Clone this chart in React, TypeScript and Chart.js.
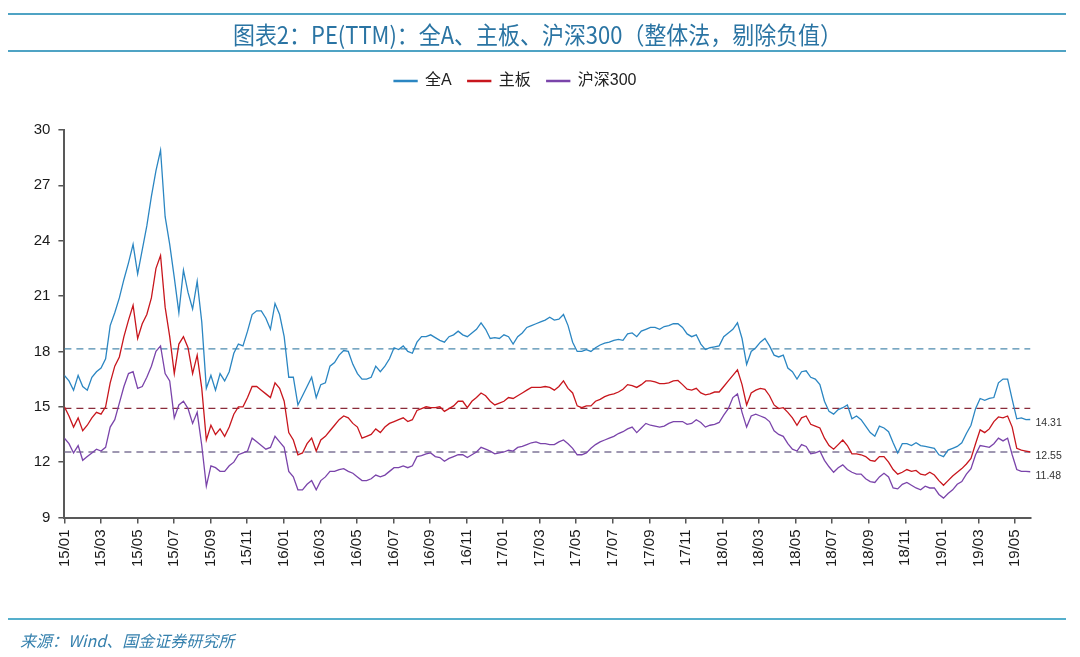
import React, { useEffect, useRef } from "react";
import { Chart, registerables } from "chart.js";

Chart.register(...registerables);

const TITLE = "图表2：PE(TTM)：全A、主板、沪深300（整体法，剔除负值）";
const SOURCE = "来源：Wind、国金证券研究所";
const SERIES_NAMES = ["全A", "主板", "沪深300"];

// x axis: months since 2015-01, tick every 2 months
const TICK_LABELS = [
  "15/01", "15/03", "15/05", "15/07", "15/09", "15/11",
  "16/01", "16/03", "16/05", "16/07", "16/09", "16/11",
  "17/01", "17/03", "17/05", "17/07", "17/09", "17/11",
  "18/01", "18/03", "18/05", "18/07", "18/09", "18/11",
  "19/01", "19/03", "19/05",
];
const TICK_STEP_MONTHS = 2;
const X_END_MONTH = 52.85;
const Y_MIN = 9;
const Y_MAX = 30;
const Y_STEP = 3;

// roughly weekly readings of PE(TTM)
const QUAN_A = [
  16.7, 16.4, 15.9, 16.7, 16.1, 15.9, 16.6, 16.9, 17.1, 17.6,
  19.4, 20.1, 20.9, 21.9, 22.8, 23.8, 22.2, 23.5, 24.8, 26.4,
  27.8, 28.9, 25.3, 23.8, 22.0, 20.1, 22.4, 21.2, 20.3, 21.8,
  19.6, 16.0, 16.7, 15.9, 16.8, 16.4, 16.9, 17.9, 18.4, 18.3,
  19.1, 20.0, 20.2, 20.2, 19.8, 19.2, 20.6, 20.0, 18.8, 16.6,
  16.6, 15.1, 15.6, 16.1, 16.6, 15.5, 16.2, 16.3, 17.2, 17.4,
  17.8, 18.05, 18.0, 17.3, 16.8, 16.5, 16.5, 16.6, 17.2, 16.9,
  17.2, 17.6, 18.2, 18.1, 18.3, 18.0, 17.9, 18.5, 18.8, 18.8,
  18.9, 18.75, 18.6, 18.5, 18.8, 18.9, 19.1, 18.9, 18.8, 19.0,
  19.2, 19.55, 19.2, 18.7, 18.75, 18.7, 18.9, 18.8, 18.4, 18.8,
  19.0, 19.3, 19.4, 19.5, 19.6, 19.7, 19.85, 19.7, 19.75, 20.0,
  19.4, 18.5, 18.0, 18.0, 18.1, 18.0, 18.2, 18.35, 18.45, 18.5,
  18.6, 18.65, 18.6, 18.95, 19.0, 18.8, 19.1, 19.2, 19.3, 19.3,
  19.2, 19.35, 19.4, 19.5, 19.5, 19.3, 18.95, 18.8, 18.9, 18.4,
  18.1, 18.2, 18.25, 18.3, 18.8, 19.0, 19.2, 19.55, 18.7, 17.3,
  18.0, 18.2, 18.5, 18.7, 18.3, 17.8, 17.7, 17.8, 17.1, 16.9,
  16.5, 16.9, 16.95, 16.6, 16.5, 16.2, 15.3, 14.75, 14.6, 14.85,
  14.95, 15.1, 14.35, 14.5, 14.3, 13.95, 13.6, 13.4, 13.95, 13.85,
  13.65, 13.05, 12.5, 13.0, 13.0, 12.9, 13.05, 12.9, 12.85, 12.8,
  12.75, 12.4, 12.3, 12.65, 12.75, 12.85, 13.05, 13.55, 14.0, 14.9,
  15.45, 15.35, 15.45, 15.5, 16.3, 16.5, 16.5, 15.4, 14.35, 14.4,
  14.3, 14.31,
];

const ZHU_BAN = [
  15.0, 14.5, 13.9, 14.4, 13.7, 14.0, 14.4, 14.7, 14.6, 15.0,
  16.3, 17.2, 17.7, 18.8, 19.7, 20.5, 18.7, 19.5, 20.0, 20.9,
  22.5, 23.2, 20.4, 18.8, 16.8, 18.4, 18.8, 18.2, 16.8, 17.8,
  16.0, 13.2, 14.0, 13.5, 13.8, 13.4, 13.9, 14.6, 15.0, 15.0,
  15.5, 16.1, 16.1, 15.9, 15.7, 15.5, 16.3, 16.0, 15.3, 13.6,
  13.2, 12.4, 12.5, 13.0, 13.3, 12.6, 13.2, 13.4, 13.7, 14.0,
  14.3, 14.5, 14.4, 14.1, 13.9, 13.3, 13.4, 13.5, 13.8, 13.6,
  13.9, 14.1, 14.2, 14.3, 14.4, 14.2, 14.3, 14.8, 14.9, 15.0,
  14.95, 14.95, 15.0, 14.75, 14.9, 15.05, 15.3, 15.3, 14.95, 15.3,
  15.5, 15.75, 15.6, 15.3, 15.1, 15.2, 15.3, 15.5, 15.45, 15.6,
  15.75, 15.9, 16.05, 16.05, 16.05, 16.1, 16.05, 15.9, 16.1, 16.4,
  16.0, 15.75, 15.05, 14.95, 15.05, 15.05, 15.3, 15.4, 15.55, 15.65,
  15.7, 15.8, 15.95, 16.2, 16.15, 16.05, 16.2, 16.4, 16.4, 16.35,
  16.25, 16.25, 16.3, 16.4, 16.43, 16.2, 15.95, 15.9, 16.0, 15.75,
  15.65, 15.7, 15.8, 15.8, 16.1, 16.4, 16.7, 17.0, 16.2, 15.1,
  15.75, 15.9, 16.0, 15.95, 15.6, 15.1, 14.9, 14.95, 14.7, 14.4,
  14.0, 14.4, 14.5, 14.05, 13.95, 13.85, 13.3, 12.9, 12.7, 12.95,
  13.2, 12.9, 12.45, 12.45, 12.4, 12.3, 12.1, 12.05, 12.3, 12.3,
  12.0, 11.6, 11.35, 11.45, 11.6, 11.5, 11.55, 11.35, 11.3, 11.45,
  11.3, 11.0, 10.75, 11.0, 11.25, 11.45, 11.65, 11.9, 12.2, 13.0,
  13.75, 13.6, 13.8, 14.2, 14.45, 14.4, 14.5, 13.9, 12.75, 12.65,
  12.6, 12.55,
];

const HS300 = [
  13.3, 13.0, 12.5, 12.9, 12.1, 12.3, 12.5, 12.7, 12.6, 12.8,
  13.9, 14.3, 15.2, 16.1, 16.8, 16.9, 16.0, 16.1, 16.6, 17.2,
  18.0, 18.3, 16.8, 16.4, 14.4, 15.1, 15.3, 14.9, 14.1, 14.7,
  12.9, 10.7, 11.8, 11.7, 11.5, 11.5, 11.8, 12.0, 12.4, 12.5,
  12.6, 13.3, 13.1, 12.9, 12.7, 12.8, 13.4, 13.1, 12.8, 11.5,
  11.2, 10.5, 10.5, 10.8, 11.0, 10.5, 11.0, 11.2, 11.5, 11.5,
  11.6, 11.65, 11.5, 11.4, 11.2, 11.0, 11.0, 11.1, 11.3, 11.2,
  11.3, 11.5, 11.7, 11.7, 11.8, 11.7, 11.8, 12.3, 12.35, 12.45,
  12.5, 12.3, 12.25, 12.05, 12.2, 12.3, 12.4, 12.4, 12.25, 12.4,
  12.55, 12.8, 12.7, 12.6, 12.45, 12.5, 12.55, 12.65, 12.6, 12.8,
  12.85, 12.95, 13.05, 13.1, 13.0, 13.0, 12.95, 12.95, 13.1, 13.2,
  13.0, 12.75, 12.4, 12.4, 12.5, 12.75, 12.95, 13.1, 13.2, 13.3,
  13.4, 13.55, 13.65, 13.8, 13.9, 13.6, 13.85, 14.1, 14.0, 13.95,
  13.9, 13.95, 14.1, 14.2, 14.2, 14.2, 14.05, 14.1, 14.3, 14.15,
  13.9, 14.0, 14.05, 14.15, 14.55, 14.9, 15.5, 15.7, 14.7, 13.9,
  14.5, 14.6, 14.5, 14.4, 14.2, 13.7, 13.5, 13.4, 13.0, 12.7,
  12.6, 12.95, 12.85, 12.45, 12.5, 12.6, 12.1, 11.75, 11.45, 11.7,
  11.85, 11.6, 11.45, 11.35, 11.35, 11.1, 10.95, 10.9, 11.2, 11.4,
  11.2, 10.6, 10.55, 10.8, 10.9, 10.75, 10.6, 10.5, 10.7, 10.6,
  10.6, 10.25, 10.05, 10.3, 10.5, 10.8, 10.95, 11.35, 11.65, 12.4,
  12.9, 12.85, 12.8, 13.0, 13.3, 13.15, 13.3, 12.4, 11.6, 11.5,
  11.5, 11.48,
];

// long-run averages (dashed reference lines)
const AVERAGES = [18.14, 14.91, 12.55];

const SERIES_COLORS = ["#2b86c2", "#c8161d", "#7a44aa"];
const AVG_COLORS = ["#4c8aae", "#8a2b3a", "#7f7598"];
const FONT = "'Liberation Sans', 'Noto Sans CJK SC', Arial, sans-serif";

export default function App() {
  const canvasRef = useRef<HTMLCanvasElement | null>(null);

  useEffect(() => {
    const canvas = canvasRef.current;
    if (!canvas) return;
    const seriesList = [QUAN_A, ZHU_BAN, HS300];
    const step = X_END_MONTH / (QUAN_A.length - 1);

    const mainSets = seriesList.map((arr, k) => ({
      label: SERIES_NAMES[k],
      data: arr.map((v, i) => ({ x: i * step, y: v })),
      borderColor: SERIES_COLORS[k],
      backgroundColor: SERIES_COLORS[k],
      borderWidth: 1.3,
      pointRadius: 0,
      tension: 0,
    }));
    const avgSets = AVERAGES.map((v, k) => ({
      label: "avg-" + k,
      data: [
        { x: 0, y: v },
        { x: X_END_MONTH, y: v },
      ],
      borderColor: AVG_COLORS[k],
      backgroundColor: AVG_COLORS[k],
      borderWidth: 1.3,
      borderDash: [7, 5],
      pointRadius: 0,
      tension: 0,
    }));

    const legendSpacer = {
      id: "legendSpacer",
      beforeInit(chart: any) {
        const lg = chart.legend;
        if (!lg) return;
        const fit = lg.fit;
        lg.fit = function () {
          fit.call(this);
          this.height += 31;
        };
      },
    };

    const endLabels = {
      id: "endLabels",
      afterDatasetsDraw(chart: any) {
        const ctx = chart.ctx;
        ctx.save();
        ctx.font = `10.5px ${FONT}`;
        ctx.fillStyle = "#333";
        ctx.textAlign = "left";
        ctx.textBaseline = "middle";
        seriesList.forEach((arr, k) => {
          const meta = chart.getDatasetMeta(k);
          const pt = meta.data[meta.data.length - 1];
          if (!pt) return;
          ctx.fillText(arr[arr.length - 1].toFixed(2), pt.x + 5, pt.y + 4);
        });
        ctx.restore();
      },
    };

    const chart = new Chart(canvas, {
      type: "line",
      data: { datasets: [...mainSets, ...avgSets] as any },
      options: {
        animation: false,
        responsive: false,
        maintainAspectRatio: false,
        layout: { padding: { top: 57, left: 0, right: 49.5, bottom: 0 } },
        plugins: {
          tooltip: { enabled: false },
          legend: {
            display: true,
            position: "top",
            align: "center",
            labels: {
              filter: (item: any) => item.datasetIndex < 3,
              boxWidth: 23,
              boxHeight: 1,
              padding: 16,
              color: "#222",
              font: { size: 16, family: FONT },
            },
          },
        },
        scales: {
          x: {
            type: "linear",
            min: 0,
            max: X_END_MONTH,
            afterBuildTicks: (scale: any) => {
              scale.ticks = TICK_LABELS.map((_, k) => ({ value: k * TICK_STEP_MONTHS }));
            },
            afterFit: (scale: any) => {
              scale.height = 139.5;
            },
            ticks: {
              autoSkip: false,
              minRotation: 90,
              maxRotation: 90,
              padding: 6,
              color: "#1a1a1a",
              font: { size: 15, family: FONT },
              callback: (value: any) => TICK_LABELS[Math.round(Number(value) / TICK_STEP_MONTHS)] ?? "",
            },
            grid: {
              drawOnChartArea: false,
              drawTicks: true,
              tickLength: 6,
              color: "#555",
              lineWidth: 1.5,
            },
            border: { display: true, color: "#595959", width: 2 },
          },
          y: {
            type: "linear",
            min: Y_MIN,
            max: Y_MAX,
            afterFit: (scale: any) => {
              scale.width = 64.4;
            },
            ticks: {
              stepSize: Y_STEP,
              padding: 8,
              color: "#1a1a1a",
              font: { size: 15, family: FONT },
            },
            grid: {
              drawOnChartArea: false,
              drawTicks: true,
              tickLength: 6,
              color: "#555",
              lineWidth: 1.5,
            },
            border: { display: true, color: "#595959", width: 2 },
          },
        },
      },
      plugins: [legendSpacer, endLabels],
    } as any);

    return () => chart.destroy();
  }, []);

  const lineColor = "#4fa3c4";
  return (
    <div
      style={{
        position: "absolute",
        left: 0,
        top: 0,
        width: 1080,
        height: 657,
        background: "#fff",
        overflow: "hidden",
      }}
    >
      <canvas
        ref={canvasRef}
        width={1080}
        height={657}
        style={{ position: "absolute", left: 0, top: 0, width: 1080, height: 657 }}
      />
      <div style={{ position: "absolute", left: 8, top: 13, width: 1058, height: 2, background: lineColor }} />
      <div
        style={{
          position: "absolute",
          left: 6,
          top: 19,
          width: 1063,
          height: 30,
          lineHeight: "30px",
          textAlign: "center",
          whiteSpace: "nowrap",
          fontFamily: "'Noto Sans CJK SC', sans-serif",
          fontSize: 24,
          color: "#2a74a3",
          transform: "scaleX(0.915)",
          transformOrigin: "531.5px 50%",
        }}
      >
        {TITLE}
      </div>
      <div style={{ position: "absolute", left: 8, top: 50, width: 1058, height: 2, background: lineColor }} />
      <div style={{ position: "absolute", left: 8, top: 618, width: 1058, height: 2, background: "#55afcc" }} />
      <div
        style={{
          position: "absolute",
          left: 20,
          top: 628,
          height: 24,
          lineHeight: "24px",
          whiteSpace: "nowrap",
          fontFamily: "'Noto Sans CJK SC', sans-serif",
          fontSize: 16,
          fontStyle: "italic",
          color: "#3580ad",
        }}
      >
        {SOURCE}
      </div>
    </div>
  );
}
